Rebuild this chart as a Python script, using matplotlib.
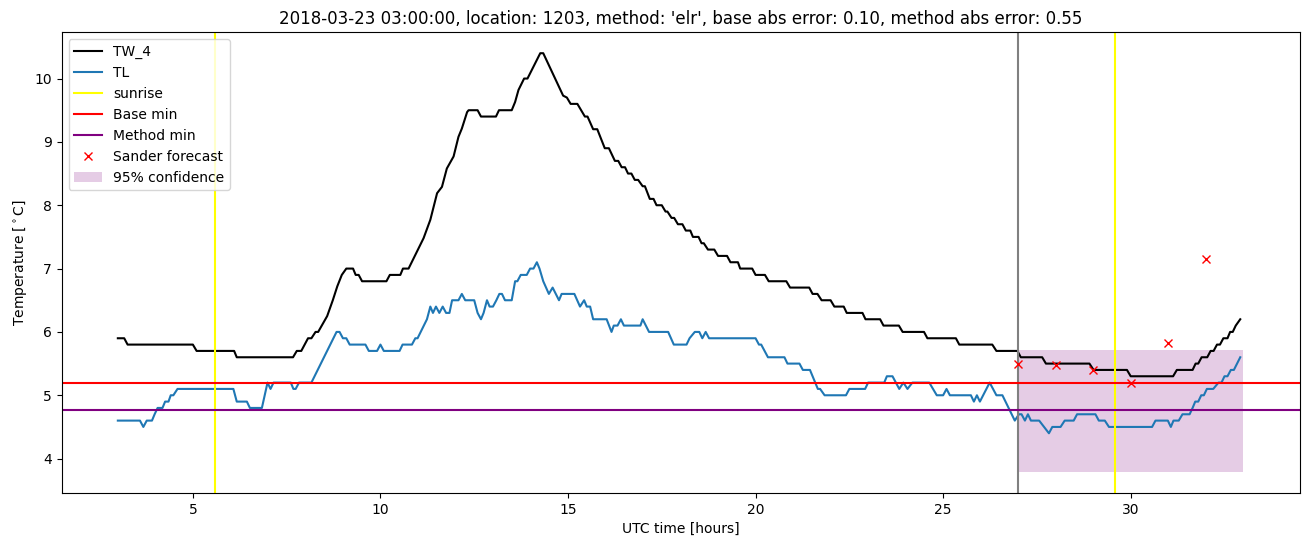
import matplotlib
matplotlib.use('Agg')
from matplotlib import pyplot as plt

# TW_4 (corner points)
tw4_hours = [3.0, 3.17, 3.26, 5.0, 5.1, 6.1, 6.17, 7.67, 7.77, 7.89, 7.98, 8.07, 8.16, 8.27, 8.34,
             8.58, 8.73, 8.85, 8.97, 9.09, 9.27, 9.34, 9.42, 9.51, 10.16, 10.25, 10.53, 10.6, 10.75,
             11.15, 11.33, 11.51, 11.64, 11.77, 11.95, 12.08, 12.17, 12.31, 12.35, 12.59, 12.68,
             13.08, 13.16, 13.5, 13.59, 13.68, 13.83, 13.92, 14.26, 14.34, 14.87, 14.97, 15.07,
             15.25, 15.45, 15.52, 15.67, 15.78, 15.98, 16.09, 16.25, 16.34, 16.43, 16.52, 16.6,
             16.69, 16.78, 16.87, 16.99, 17.05, 17.18, 17.28, 17.36, 17.5, 17.6, 17.65, 17.76,
             17.83, 17.93, 18.05, 18.14, 18.26, 18.33, 18.48, 18.56, 18.62, 18.73, 18.9, 19.0,
             19.24, 19.33, 19.53, 19.59, 19.91, 20.0, 20.25, 20.35, 20.82, 20.92, 21.43, 21.52,
             21.65, 21.76, 22.0, 22.1, 22.35, 22.43, 22.85, 22.93, 23.32, 23.41, 23.82, 23.92,
             24.49, 24.58, 25.34, 25.43, 26.31, 26.42, 26.98, 27.07, 27.64, 27.74, 28.9, 29.01,
             29.9, 30.0, 31.13, 31.23, 31.65, 31.73, 31.8, 31.89, 32.04, 32.13, 32.21, 32.3,
             32.38, 32.47, 32.58, 32.65, 32.72, 32.8, 32.92]
tw4_temp = [5.9, 5.9, 5.8, 5.8, 5.7, 5.7, 5.6, 5.6, 5.7, 5.7, 5.8, 5.9, 5.9, 6.0, 6.0,
            6.25, 6.5, 6.72, 6.9, 7.0, 7.0, 6.9, 6.9, 6.8, 6.8, 6.9, 6.9, 7.0, 7.0,
            7.48, 7.77, 8.19, 8.29, 8.58, 8.77, 9.08, 9.21, 9.47, 9.5, 9.5, 9.4,
            9.4, 9.5, 9.5, 9.63, 9.82, 10.0, 10.0, 10.4, 10.4, 9.73, 9.7, 9.6,
            9.6, 9.4, 9.4, 9.2, 9.2, 8.9, 8.9, 8.7, 8.7, 8.6, 8.6, 8.5,
            8.5, 8.4, 8.4, 8.3, 8.3, 8.1, 8.1, 8.0, 8.0, 7.9, 7.9, 7.8,
            7.8, 7.7, 7.7, 7.6, 7.6, 7.5, 7.5, 7.4, 7.4, 7.3, 7.3, 7.2,
            7.2, 7.1, 7.1, 7.0, 7.0, 6.9, 6.9, 6.8, 6.8, 6.7, 6.7, 6.6,
            6.6, 6.5, 6.5, 6.4, 6.4, 6.3, 6.3, 6.2, 6.2, 6.1, 6.1, 6.0,
            6.0, 5.9, 5.9, 5.8, 5.8, 5.7, 5.7, 5.6, 5.6, 5.5, 5.5, 5.4,
            5.4, 5.3, 5.3, 5.4, 5.4, 5.5, 5.5, 5.6, 5.6, 5.7, 5.7, 5.8,
            5.8, 5.9, 5.9, 6.0, 6.0, 6.1, 6.2]

# TL
tl_hours = [3.0, 3.59, 3.68, 3.77, 3.91, 3.98, 4.06, 4.19, 4.26, 4.35, 4.41, 4.48, 4.59, 6.08,
            6.17, 6.44, 6.52, 6.84, 6.99, 7.07, 7.15, 7.61, 7.68, 7.74, 7.83, 8.16, 8.83, 8.91,
            9.0, 9.09, 9.18, 9.6, 9.69, 9.91, 10.0, 10.09, 10.51, 10.59, 10.84, 10.93, 10.99,
            11.24, 11.33, 11.4, 11.48, 11.57, 11.66, 11.75, 11.84, 11.91, 12.08, 12.17, 12.26,
            12.5, 12.59, 12.68, 12.75, 12.84, 12.91, 13.0, 13.09, 13.17, 13.24, 13.32, 13.5,
            13.59, 13.65, 13.74, 13.9, 13.99, 14.08, 14.17, 14.24, 14.34, 14.49, 14.59, 14.76,
            14.83, 15.17, 15.32, 15.43, 15.5, 15.59, 15.67, 16.03, 16.16, 16.22, 16.32, 16.41,
            16.49, 16.93, 16.99, 17.16, 17.67, 17.82, 18.16, 18.24, 18.38, 18.5, 18.58, 18.67,
            18.76, 20.0, 20.09, 20.15, 20.33, 20.77, 20.85, 21.17, 21.26, 21.45, 21.66, 21.72,
            21.84, 22.41, 22.5, 22.92, 23.0, 23.43, 23.5, 23.65, 23.83, 23.94, 24.05, 24.18,
            24.63, 24.83, 25.0, 25.09, 25.18, 25.74, 25.82, 25.9, 25.98, 26.24, 26.42, 26.58,
            26.91, 27.02, 27.09, 27.18, 27.26, 27.34, 27.56, 27.82, 27.91, 28.13, 28.24, 28.48,
            28.57, 29.06, 29.15, 29.31, 29.42, 30.57, 30.66, 30.99, 31.07, 31.14, 31.28, 31.38,
            31.57, 31.65, 31.72, 31.8, 31.88, 31.95, 32.03, 32.2, 32.34, 32.42, 32.5, 32.58,
            32.67, 32.75, 32.92]
tl_temp = [4.6, 4.6, 4.5, 4.6, 4.6, 4.7, 4.8, 4.8, 4.9, 4.9, 5.0, 5.0, 5.1, 5.1,
           4.9, 4.9, 4.8, 4.8, 5.2, 5.1, 5.2, 5.2, 5.1, 5.1, 5.2, 5.2, 6.0, 6.0,
           5.9, 5.9, 5.8, 5.8, 5.7, 5.7, 5.8, 5.7, 5.7, 5.8, 5.8, 5.9, 5.9,
           6.2, 6.4, 6.3, 6.4, 6.3, 6.4, 6.3, 6.3, 6.5, 6.5, 6.6, 6.5,
           6.5, 6.3, 6.2, 6.3, 6.5, 6.4, 6.4, 6.5, 6.6, 6.6, 6.5, 6.5,
           6.8, 6.8, 6.9, 6.9, 7.0, 7.0, 7.1, 7.0, 6.8, 6.6, 6.7, 6.5,
           6.6, 6.6, 6.4, 6.5, 6.4, 6.4, 6.2, 6.2, 6.0, 6.1, 6.1, 6.2,
           6.1, 6.1, 6.2, 6.0, 6.0, 5.8, 5.8, 5.9, 6.0, 6.0, 5.9, 6.0,
           5.9, 5.9, 5.8, 5.8, 5.6, 5.6, 5.5, 5.5, 5.4, 5.4, 5.1, 5.1,
           5.0, 5.0, 5.1, 5.1, 5.2, 5.2, 5.3, 5.3, 5.1, 5.2, 5.1, 5.2,
           5.2, 5.0, 5.0, 5.1, 5.0, 5.0, 4.9, 5.0, 4.9, 5.2, 5.0, 5.0,
           4.6, 4.7, 4.7, 4.6, 4.7, 4.6, 4.6, 4.4, 4.5, 4.5, 4.6, 4.6,
           4.7, 4.7, 4.6, 4.6, 4.5, 4.5, 4.6, 4.6, 4.5, 4.6, 4.6, 4.7,
           4.7, 4.8, 4.9, 4.9, 5.0, 5.0, 5.1, 5.1, 5.2, 5.2, 5.3, 5.3,
           5.4, 5.4, 5.6]

sunrise_hours = [5.58, 29.57]
forecast_start = 27
base_min = 5.2
method_min = 4.77

sander_hours = [27, 28, 29, 30, 31, 32]
sander_temp = [5.49, 5.48, 5.40, 5.20, 5.83, 7.15]

conf_hours = [27, 33]
conf_low = 3.79
conf_high = 5.71

title = ("2018-03-23 03:00:00, location: 1203, method: 'elr', "
         "base abs error: 0.10, method abs error: 0.55")


def main():
    fig, ax = plt.subplots(figsize=(13.1, 5.47), dpi=100)
    fig.subplots_adjust(left=0.047, right=0.992, top=0.941, bottom=0.099)

    ax.plot(tw4_hours, tw4_temp, color='black', label='TW_4')
    ax.plot(tl_hours, tl_temp, color='tab:blue', label='TL')

    for i, h in enumerate(sunrise_hours):
        ax.axvline(h, color='yellow', label='sunrise' if i == 0 else None)
    ax.axvline(forecast_start, color='grey')

    ax.axhline(base_min, color='red', label='Base min')
    ax.axhline(method_min, color='purple', label='Method min')

    ax.plot(sander_hours, sander_temp, 'x', color='red', label='Sander forecast')
    ax.fill_between(conf_hours, conf_low, conf_high, color='purple', alpha=0.2,
                    linewidth=0, label='95% confidence')

    ax.set_title(title)
    ax.set_xlabel('UTC time [hours]')
    ax.set_ylabel(r'Temperature [$^\circ$C]')
    ax.legend(loc='upper left')

    fig.savefig('out.png', dpi=100)


if __name__ == '__main__':
    main()
